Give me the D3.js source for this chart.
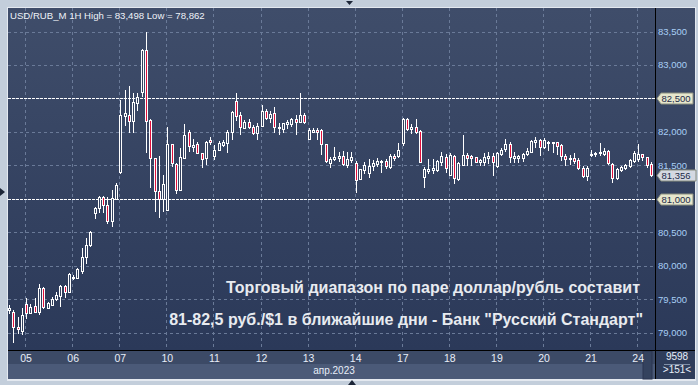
<!DOCTYPE html>
<html>
<head>
<meta charset="utf-8">
<script src="https://cdn.jsdelivr.net/npm/d3@7"></script>
<style>
  html, body { margin: 0; padding: 0; background: #c3cedb; }
  svg { display: block; font-family: Arial, "Liberation Sans", sans-serif; }
</style>
</head>
<body>
<script>
// USD/RUB_M hourly bars, 04.04 - 24.04.2023
var opens = [79.33,79.302,79.078,79.028,79.422,79.297,79.397,79.312,79.666,79.362,79.407,79.496,79.546,79.696,79.611,79.81,79.81,79.925,80.134,80.308,
  80.782,80.857,81.031,80.906,80.672,80.991,81.405,82.242,82.252,82.167,82.436,82.601,83.224,82.177,81.604,81.121,80.991,80.832,81.814,81.52,
  81.131,81.614,81.993,81.779,81.814,81.689,81.604,81.878,81.639,81.729,81.803,81.838,81.993,82.461,82.252,82.062,82.142,82.077,81.978,82.092,
  82.312,82.202,82.277,82.052,82.037,82.112,82.112,82.187,82.152,82.252,81.893,82.003,82.028,82.028,81.813,81.529,81.589,81.604,81.639,81.505,
  81.579,81.529,81.29,81.43,81.38,81.49,81.515,81.554,81.564,81.48,81.644,81.639,81.828,82.192,82.038,82.067,82.018,81.33,81.415,81.43,
  81.43,81.554,81.619,81.355,81.639,81.29,81.504,81.654,81.644,81.619,81.544,81.554,81.614,81.639,81.494,81.669,81.739,81.818,81.604,81.614,
  81.604,81.664,81.704,81.843,81.878,81.779,81.828,81.828,81.843,81.803,81.644,81.589,81.614,81.579,81.455,81.34,81.654,81.669,81.689,81.669,
  81.714,81.514,81.305,81.43,81.455,81.494,81.569,81.589,81.664,81.619,81.52];
var highs = [79.41,79.337,79.237,79.362,79.511,79.427,79.511,79.726,79.686,79.461,79.536,79.611,79.711,79.711,79.885,79.86,79.96,80.259,80.408,80.523,
  80.882,81.041,81.041,81.031,81.131,81.23,82.476,82.626,82.685,82.586,82.586,83.234,83.498,82.187,81.604,81.639,81.355,82.078,81.814,81.53,
  81.754,82.118,82.028,81.888,81.854,81.689,81.869,81.918,81.803,81.868,81.878,82.028,82.317,82.576,82.302,82.177,82.187,82.102,82.127,82.401,
  82.341,82.317,82.376,82.127,82.137,82.177,82.212,82.252,82.576,82.277,82.052,82.052,82.052,82.038,81.813,81.629,81.769,81.704,81.714,81.704,
  81.704,81.569,81.44,81.554,81.589,81.579,81.604,81.579,81.589,81.669,81.669,81.828,82.202,82.202,82.112,82.187,82.028,81.48,81.589,81.589,
  81.579,81.694,81.664,81.679,81.654,81.554,81.953,81.689,81.654,81.629,81.594,81.689,81.694,81.679,81.704,81.754,81.888,81.853,81.704,81.654,
  81.679,81.754,81.878,81.928,81.888,81.913,81.868,81.853,81.853,81.813,81.664,81.654,81.679,81.604,81.49,81.49,81.729,81.704,81.828,81.754,
  81.729,81.529,81.455,81.49,81.514,81.594,81.714,81.818,81.669,81.629,81.545];
var lows = [79.29,78.862,78.988,78.978,79.212,79.297,79.312,79.277,79.367,79.362,79.407,79.486,79.402,79.536,79.611,79.795,79.81,79.885,80.044,80.293,
  80.717,80.807,80.807,80.642,80.597,80.991,81.39,82.102,82.003,82.003,82.327,82.53,81.704,81.181,80.822,80.732,80.822,80.832,81.495,81.091,
  81.131,81.614,81.719,81.719,81.679,81.47,81.52,81.82,81.589,81.729,81.793,81.704,81.893,82.177,81.968,82.062,82.052,81.968,81.893,82.092,
  82.187,82.142,82.003,81.963,82.003,82.052,82.092,81.963,82.152,82.127,81.893,81.993,81.893,81.669,81.554,81.48,81.579,81.569,81.505,81.48,
  81.554,81.106,81.29,81.39,81.32,81.43,81.49,81.405,81.455,81.455,81.579,81.619,81.803,82.028,81.978,81.978,81.544,81.181,81.38,81.38,
  81.42,81.504,81.405,81.355,81.23,81.28,81.504,81.504,81.504,81.544,81.504,81.504,81.539,81.355,81.48,81.654,81.719,81.554,81.554,81.554,
  81.569,81.654,81.704,81.779,81.654,81.754,81.729,81.704,81.669,81.579,81.504,81.519,81.529,81.445,81.32,81.28,81.644,81.639,81.654,81.654,
  81.519,81.256,81.29,81.42,81.44,81.48,81.554,81.564,81.579,81.48,81.34];
var closes = [79.37,79.078,79.048,79.262,79.297,79.382,79.312,79.661,79.387,79.437,79.501,79.561,79.696,79.611,79.87,79.835,79.945,80.124,80.308,80.508,
  80.857,81.021,80.906,80.667,81.006,81.205,82.252,82.277,82.167,82.451,82.516,83.224,82.167,81.604,81.121,80.991,81.221,81.814,81.53,81.131,
  81.629,81.953,81.789,81.804,81.689,81.589,81.854,81.843,81.729,81.838,81.853,82.003,82.292,82.242,82.067,82.142,82.077,81.978,82.087,82.312,
  82.212,82.262,82.077,82.077,82.127,82.142,82.187,82.152,82.252,82.152,82.028,82.028,82.003,81.813,81.564,81.589,81.629,81.639,81.515,81.589,
  81.619,81.28,81.44,81.504,81.49,81.529,81.564,81.569,81.49,81.644,81.614,81.729,82.192,82.038,82.077,82.003,81.544,81.445,81.445,81.455,
  81.564,81.639,81.455,81.654,81.305,81.539,81.654,81.604,81.614,81.554,81.579,81.619,81.639,81.544,81.689,81.729,81.818,81.629,81.639,81.639,
  81.669,81.719,81.863,81.878,81.779,81.878,81.843,81.843,81.793,81.644,81.594,81.604,81.569,81.455,81.34,81.455,81.669,81.689,81.704,81.719,
  81.529,81.305,81.44,81.47,81.504,81.579,81.689,81.664,81.629,81.504,81.356];

// first bar of every trading day and its label
var dayLabels = ["05","06","07","10","11","12","13","14","17","18","19","20","21","24"];
var dayFirstBar = [4,15,26,37,48,59,70,81,92,103,114,125,136,147];

var yTicks = [79, 79.5, 80, 80.5, 81, 81.5, 82, 82.5, 83, 83.5];
var levelLines = [82.5, 81.0];   // the dashed support / resistance levels
var lastPrice = 81.356;
var headerText = "USD/RUB_M 1H High = 83,498 Low = 78,862";
var captionLines = ["Торговый диапазон по паре доллар/рубль составит",
                    "81-82,5 руб./$1 в ближайшие дни - Банк \"Русский Стандарт\""];

var W = 698, H = 385;
var plot = {left: 8, right: 655, top: 8, bottom: 350};

var svg = d3.select("body").append("svg")
    .attr("width", W).attr("height", H);

// background gradient of the chart panel
var defs = svg.append("defs");
var grad = defs.append("linearGradient").attr("id", "bg")
    .attr("x1", 0).attr("y1", 0).attr("x2", 0).attr("y2", 1);
grad.append("stop").attr("offset", "0%").attr("stop-color", "#3f4d6a");
grad.append("stop").attr("offset", "100%").attr("stop-color", "#2b3959");
defs.append("clipPath").attr("id", "clip").append("rect")
    .attr("x", plot.left).attr("y", plot.top)
    .attr("width", plot.right - plot.left).attr("height", plot.bottom - plot.top);

// outer frame
svg.append("rect").attr("width", W).attr("height", H).attr("fill", "#c3cedb");
svg.append("rect").attr("x", plot.left - 1).attr("y", plot.top - 1)
    .attr("width", 695 - plot.left + 2).attr("height", 380 - plot.top + 2)
    .attr("fill", "#e4e9f0");
svg.append("rect").attr("x", plot.left).attr("y", plot.top)
    .attr("width", 695 - plot.left).attr("height", plot.bottom - plot.top)
    .attr("fill", "url(#bg)");

// bottom axis bands
svg.append("rect").attr("x", plot.left).attr("y", plot.bottom)
    .attr("width", 695 - plot.left).attr("height", 14).attr("fill", "#3c4a66");
svg.append("rect").attr("x", plot.left).attr("y", plot.bottom + 14)
    .attr("width", 695 - plot.left).attr("height", 15).attr("fill", "#4b5a78");
svg.append("rect").attr("x", 643).attr("y", plot.bottom + 1)
    .attr("width", 9).attr("height", 28).attr("fill", "#34425e")
    .attr("stroke", "#2a3550");
svg.append("rect").attr("x", plot.right).attr("y", plot.bottom)
    .attr("width", 695 - plot.right).attr("height", 29).attr("fill", "#2f3d5b");

// scales
var x = d3.scaleLinear().domain([0, closes.length - 1]).range([9, 9 + 4.28 * (closes.length - 1)]);
var y = d3.scaleLinear().domain([79, 83.5]).range([332.5, 31.5]);
var fmt = function(v){ return d3.format(".3f")(v).replace(".", ","); };

var g = svg.append("g").attr("clip-path", "url(#clip)");

// grid
g.selectAll("line.hgrid").data(yTicks).enter().append("line")
    .attr("x1", plot.left).attr("x2", plot.right)
    .attr("y1", function(d){ return Math.round(y(d)) + 0.5; })
    .attr("y2", function(d){ return Math.round(y(d)) + 0.5; })
    .attr("stroke", "#6a7a98").attr("stroke-dasharray", "3,3");
g.selectAll("line.vgrid").data(dayFirstBar).enter().append("line")
    .attr("x1", function(d){ return Math.round(x(d)) - 0.5; })
    .attr("x2", function(d){ return Math.round(x(d)) - 0.5; })
    .attr("y1", plot.top).attr("y2", plot.bottom)
    .attr("stroke", "#6a7a98").attr("stroke-dasharray", "3,3");

// level lines
g.selectAll("line.level").data(levelLines).enter().append("line")
    .attr("x1", plot.left).attr("x2", plot.right)
    .attr("y1", function(d){ return Math.round(y(d)) + 0.5; })
    .attr("y2", function(d){ return Math.round(y(d)) + 0.5; })
    .attr("stroke", "#ffffff").attr("stroke-dasharray", "3,1");

// candles
var bars = d3.range(closes.length);
var candle = g.selectAll("g.candle").data(bars).enter().append("g");
candle.append("line")
    .attr("x1", function(i){ return Math.round(x(i)) + 0.5; })
    .attr("x2", function(i){ return Math.round(x(i)) + 0.5; })
    .attr("y1", function(i){ return Math.round(y(highs[i])); })
    .attr("y2", function(i){ return Math.round(y(lows[i])) + 1; })
    .attr("stroke", "#ffffff");
candle.append("rect")
    .attr("x", function(i){ return Math.round(x(i)) - 0.5; })
    .attr("width", 2)
    .attr("y", function(i){ return Math.round(y(Math.max(opens[i], closes[i]))) + 0.5; })
    .attr("height", function(i){
        return Math.max(1, Math.round(y(Math.min(opens[i], closes[i]))) - Math.round(y(Math.max(opens[i], closes[i]))));
    })
    .attr("fill", function(i){ return closes[i] >= opens[i] ? "#34425f" : "#e0103c"; })
    .attr("stroke", "#ffffff");

// caption
var cap = svg.append("g").attr("fill", "#e8ebf0").attr("font-size", 16)
    .attr("font-weight", "bold").attr("text-anchor", "end");
cap.append("text").attr("x", 640).attr("y", 293).text(captionLines[0]);
cap.append("text").attr("x", 643).attr("y", 324.5).text(captionLines[1]);

// header
svg.append("text").attr("x", 10).attr("y", 19).attr("font-size", 9.6)
    .attr("fill", "#eef2f8").text(headerText);

// right axis
svg.append("line").attr("x1", plot.right + 0.5).attr("x2", plot.right + 0.5)
    .attr("y1", plot.top).attr("y2", 379).attr("stroke", "#000000");
svg.append("line").attr("x1", plot.left).attr("x2", 695)
    .attr("y1", plot.bottom + 0.5).attr("y2", plot.bottom + 0.5).attr("stroke", "#000000");
svg.selectAll("text.ytick").data(yTicks.filter(function(d){ return levelLines.indexOf(d) < 0; }))
    .enter().append("text")
    .attr("x", 658).attr("y", function(d){ return y(d) + 3.5; })
    .attr("font-size", 9.5).attr("fill", "#a8cef5")
    .text(fmt);

// price tags on the axis
function tag(v, fill, w){
    var yy = Math.round(y(v)) + 0.5;
    svg.append("path")
        .attr("d", "M" + 657 + "," + yy + " L661," + (yy - 5.5) + " L" + (661 + w) + "," + (yy - 5.5) +
              " L" + (661 + w) + "," + (yy + 5.5) + " L661," + (yy + 5.5) + " Z")
        .attr("fill", fill).attr("stroke", "#8a8f80");
    svg.append("text").attr("x", 661.5).attr("y", yy + 3.5)
        .attr("font-size", 9.5).attr("fill", "#1c2a48").text(fmt(v));
}
levelLines.forEach(function(v){ tag(v, "#e6e6cc", 32); });
tag(lastPrice, "#d4d9e2", 35);

// date labels
svg.selectAll("text.day").data(dayLabels).enter().append("text")
    .attr("x", function(d, k){ return x(dayFirstBar[k]); })
    .attr("y", 362).attr("text-anchor", "middle")
    .attr("font-size", 10.5).attr("fill", "#e8eef8")
    .text(function(d){ return d; });
svg.append("text").attr("x", 334).attr("y", 374).attr("text-anchor", "middle")
    .attr("font-size", 10).attr("fill", "#e8eef8").text("апр.2023");

// bar counters in the corner
svg.append("text").attr("x", 677).attr("y", 360).attr("text-anchor", "middle")
    .attr("font-size", 10).attr("fill", "#e8eef8").text("9598");
svg.append("line").attr("x1", 664).attr("x2", 690).attr("y1", 364.5).attr("y2", 364.5)
    .attr("stroke", "#8090a8");
svg.append("text").attr("x", 677).attr("y", 373).attr("text-anchor", "middle")
    .attr("font-size", 10).attr("fill", "#e8eef8").text(">151<");

// little navigation arrows of the frame
svg.append("path").attr("d", "M346,1 L353,1 L349.5,5 Z").attr("fill", "#1c2638");
svg.append("path").attr("d", "M348,385 L356,385 L352,380 Z").attr("fill", "#1c2638");
svg.append("path").attr("d", "M0,188 L5,192 L0,196 Z").attr("fill", "#1c2638");
</script>
</body>
</html>
